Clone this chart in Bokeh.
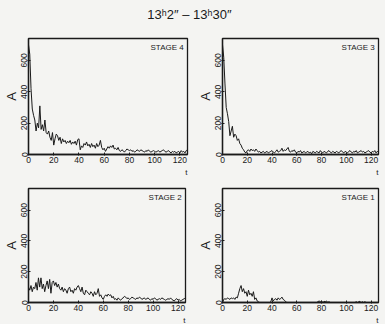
from bokeh.plotting import figure
from bokeh.layouts import column, row
from bokeh.models import FixedTicker, Range1d, Title, Label
from bokeh.embed import file_html
from bokeh.resources import INLINE

TITLE = "13ʰ2″  –  13ʰ30″"
t = list(range(127))

stage4 = [700, 640, 420, 290, 250, 220, 150, 200, 170, 310,
          160, 190, 150, 220, 140, 130, 150, 110, 90, 140,
          60, 100, 130, 120, 90, 110, 70, 100, 80, 90,
          70, 85, 75, 90, 65, 80, 70, 85, 60, 95,
          100, 30, 55, 45, 70, 60, 80, 55, 65, 45,
          70, 50, 60, 40, 70, 50, 60, 90, 45, 30,
          40, 20, 35, 50, 40, 55, 45, 60, 35, 40,
          30, 45, 25, 20, 30, 25, 15, 25, 35, 30,
          25, 30, 20, 25, 15, 20, 30, 25, 20, 30,
          25, 20, 15, 25, 20, 30, 20, 15, 20, 25,
          20, 15, 20, 25, 15, 20, 25, 30, 20, 15,
          20, 25, 15, 10, 20, 15, 20, 10, 15, 20,
          10, 25, 15, 20, 10, 25, 30]

stage3 = [700, 620, 450, 300, 260, 210, 120, 150, 180, 110,
          130, 120, 90, 100, 70, 60, 40, 30, 15, 10,
          25, 30, 20, 35, 25, 30, 20, 35, 25, 15,
          20, 10, 15, 20, 10, 15, 20, 10, 15, 20,
          25, 15, 10, 20, 30, 15, 20, 25, 40, 20,
          30, 25, 35, 45, 20, 15, 25, 20, 30, 15,
          10, 20, 15, 25, 10, 15, 20, 10, 15, 20,
          10, 15, 5, 20, 15, 10, 20, 15, 10, 25,
          15, 10, 20, 15, 10, 20, 25, 15, 10, 20,
          15, 10, 20, 15, 10, 20, 25, 15, 10, 20,
          15, 10, 20, 25, 15, 10, 20, 15, 25, 10,
          15, 20, 25, 15, 20, 10, 15, 20, 25, 15,
          10, 20, 15, 25, 10, 20, 15]

stage2 = [100, 80, 110, 70, 100, 90, 130, 80, 160, 100,
          160, 90, 120, 70, 110, 140, 90, 150, 60, 130,
          140, 110, 130, 100, 120, 90, 80, 100, 70, 90,
          80, 60, 90, 100, 70, 80, 60, 90, 80, 100,
          110, 90, 70, 100, 60, 50, 80, 70, 60, 50,
          70, 60, 40, 70, 50, 60, 90, 40, 50, 30,
          20, 40, 50, 40, 55, 45, 50, 30, 40, 20,
          25, 15, 30, 20, 15, 25, 30, 40, 35, 25,
          30, 20, 25, 35, 30, 25, 20, 30, 25, 35,
          30, 20, 25, 30, 20, 25, 30, 20, 15, 25,
          20, 30, 25, 15, 20, 25, 20, 30, 25, 20,
          15, 20, 25, 20, 30, 20, 15, 10, 20, 25,
          15, 20, 10, 15, 20, 25, 30]

stage1 = [0, 20, 25, 20, 30, 25, 20, 30, 25, 30,
          20, 35, 30, 60, 90, 110, 70, 90, 60, 70,
          40, 80, 50, 60, 40, 70, 20, 30, 10, 5,
          0, 0, 0, 0, 0, 0, 0, 0, 0, 5,
          30, 10, 20, 25, 15, 30, 20, 25, 35, 20,
          15, 5, 0, 0, 0, 0, 0, 0, 0, 0,
          0, 0, 0, 0, 0, 0, 0, 0, 0, 0,
          0, 0, 0, 0, 0, 0, 0, 5, 10, 5,
          10, 0, 8, 5, 10, 0, 5, 0, 0, 0,
          0, 0, 0, 0, 0, 0, 0, 0, 0, 0,
          0, 0, 0, 0, 0, 0, 0, 0, 5, 0,
          5, 8, 0, 5, 0, 5, 0, 0, 0, 0,
          0, 0, 0, 0, 0, 0, 0]

x_ticks = [0, 20, 40, 60, 80, 100, 120]
y_ticks = [0, 200, 400, 600]

BG = "#f4f4f2"
INK = "#1a1a1a"
FONT = "Liberation Sans"


def panel(values, stage, width, height, left, right, top, bottom):
    p = figure(width=width, height=height, output_backend="svg", toolbar_location=None,
               x_range=Range1d(0, 126), y_range=Range1d(0, 740),
               min_border_left=left, min_border_right=right,
               min_border_top=top, min_border_bottom=bottom)
    p.background_fill_color = BG
    p.border_fill_color = BG
    p.outline_line_color = INK
    p.outline_line_width = 1.3
    p.grid.visible = False
    p.line(t, values, line_color=INK, line_width=1)

    for ax in (p.xaxis[0], p.yaxis[0]):
        ax.axis_line_color = INK
        ax.axis_line_width = 1.3
        ax.major_tick_line_color = INK
        ax.minor_tick_line_color = INK
        ax.major_tick_in = 2
        ax.major_tick_out = 1
        ax.minor_tick_in = 0
        ax.minor_tick_out = 0
        ax.major_label_text_font = FONT
        ax.major_label_text_font_size = "8.5px"
        ax.major_label_text_color = INK
        ax.major_label_standoff = 1
    p.xaxis.ticker = FixedTicker(ticks=x_ticks)
    p.yaxis.ticker = FixedTicker(ticks=y_ticks)
    p.yaxis.major_label_orientation = "vertical"
    p.yaxis.major_label_standoff = 0
    p.yaxis.axis_label = "A"
    p.yaxis.axis_label_text_font = FONT
    p.yaxis.axis_label_text_font_size = "13px"
    p.yaxis.axis_label_text_font_style = "normal"
    p.yaxis.axis_label_text_color = INK
    p.yaxis.axis_label_standoff = 0

    p.add_layout(Label(x=123, y=683, text=stage, text_align="right", text_baseline="middle",
                       text_font=FONT, text_font_size="8px", text_color=INK))
    tt = Title(text="t", align="right", text_font=FONT, text_font_size="8px",
               text_font_style="normal", text_color=INK)
    if hasattr(tt, "standoff"):
        tt.standoff = 0
    p.add_layout(tt, "below")
    return p


title_fig = figure(width=385, height=26, output_backend="svg", toolbar_location=None,
                   title=TITLE, min_border_left=0, min_border_right=0,
                   min_border_top=4, min_border_bottom=0)
title_fig.title.align = "center"
title_fig.title.text_font = FONT
title_fig.title.text_font_size = "13px"
title_fig.title.text_font_style = "normal"
title_fig.title.text_color = INK
title_fig.axis.visible = False
title_fig.grid.visible = False
title_fig.outline_line_color = None
title_fig.background_fill_color = BG
title_fig.border_fill_color = BG

p4 = panel(stage4, "STAGE 4", 194, 154, 27, 7, 12, 26)
p3 = panel(stage3, "STAGE 3", 191, 154, 27, 7, 12, 26)
p2 = panel(stage2, "STAGE 2", 194, 144, 27, 9, 8, 22)
p1 = panel(stage1, "STAGE 1", 191, 144, 28, 7, 8, 22)

layout = column(title_fig, row(p4, p3, spacing=0), row(p2, p1, spacing=0), spacing=0)
layout.styles = {"background-color": BG}

open("out.html", "w").write(file_html(layout, INLINE))
